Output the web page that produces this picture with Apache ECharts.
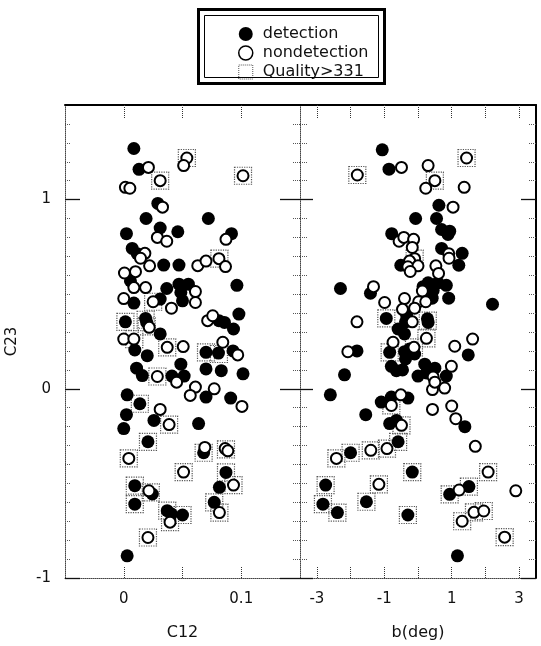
<!DOCTYPE html>
<html>
<head>
<meta charset="utf-8">
<script src="https://cdn.jsdelivr.net/npm/echarts@6/dist/echarts.min.js"></script>
<style>
html,body{margin:0;padding:0;background:#fff;}
#chart{width:541px;height:646px;}
</style>
</head>
<body>
<div id="chart"></div>
<script>
// ---- data: left panel (C12, C23) ----
var leftDetection = [[0.0086,1.27],[0.013,1.16],[0.029,0.98],[0.019,0.90],[0.072,0.90],[0.031,0.85],[0.0023,0.82],[0.046,0.83],[0.0917,0.82],[0.0072,0.742],[0.0115,0.714],[0.034,0.654],[0.047,0.654],[0.0057,0.57],[0.0366,0.53],[0.047,0.553],[0.055,0.553],[0.0486,0.509],[0.050,0.465],[0.0963,0.547],[0.0086,0.453],[0.031,0.474],[0.098,0.395],[0.081,0.36],[0.0857,0.351],[0.0934,0.316],[0.0014,0.354],[0.0186,0.372],[0.0195,0.351],[0.031,0.29],[0.0094,0.205],[0.020,0.175],[0.070,0.193],[0.0806,0.189],[0.093,0.20],[0.0486,0.13],[0.0109,0.109],[0.0158,0.07],[0.041,0.067],[0.0514,0.067],[0.070,0.105],[0.083,0.096],[0.1015,0.079],[0.070,-0.044],[0.091,-0.049],[0.0029,-0.032],[0.0137,-0.079],[0.0023,-0.137],[0.0257,-0.167],[0.0637,-0.184],[0.0,-0.21],[0.0206,-0.28],[0.068,-0.338],[0.087,-0.442],[0.0094,-0.512],[0.0243,-0.556],[0.0814,-0.521],[0.0094,-0.61],[0.077,-0.6],[0.037,-0.644],[0.0406,-0.662],[0.050,-0.667],[0.0029,-0.883]];
var leftNondetection = [[0.0537,1.22],[0.051,1.18],[0.021,1.17],[0.031,1.10],[0.1015,1.126],[0.0014,1.065],[0.0052,1.06],[0.033,0.96],[0.0286,0.80],[0.0366,0.78],[0.087,0.79],[0.018,0.716],[0.0143,0.69],[0.022,0.65],[0.063,0.651],[0.070,0.675],[0.081,0.688],[0.0866,0.646],[0.0006,0.612],[0.010,0.619],[0.0086,0.535],[0.0186,0.535],[0.061,0.514],[0.061,0.456],[0.0,0.477],[0.025,0.46],[0.0406,0.426],[0.0714,0.36],[0.0757,0.386],[0.0217,0.325],[0.0,0.263],[0.0086,0.263],[0.037,0.219],[0.0506,0.223],[0.0843,0.246],[0.097,0.179],[0.0286,0.065],[0.045,0.035],[0.061,0.009],[0.0566,-0.035],[0.077,0.0],[0.1006,-0.093],[0.031,-0.109],[0.0386,-0.189],[0.0043,-0.368],[0.069,-0.31],[0.0863,-0.316],[0.0886,-0.328],[0.0509,-0.44],[0.0214,-0.539],[0.0934,-0.509],[0.0814,-0.654],[0.0394,-0.705],[0.0206,-0.786]];
var leftQuality = [[0.0537,1.22],[0.031,1.10],[0.1015,1.126],[0.0814,0.688],[0.025,0.46],[0.0014,0.354],[0.0186,0.365],[0.0195,0.33],[0.009,0.263],[0.037,0.219],[0.070,0.193],[0.081,0.184],[0.0286,0.065],[0.0137,-0.079],[0.0386,-0.189],[0.0206,-0.28],[0.0043,-0.368],[0.068,-0.338],[0.087,-0.32],[0.051,-0.44],[0.087,-0.442],[0.0094,-0.512],[0.023,-0.547],[0.0934,-0.509],[0.0094,-0.61],[0.077,-0.6],[0.0814,-0.654],[0.037,-0.644],[0.050,-0.667],[0.0394,-0.705],[0.0206,-0.786]];

// ---- data: right panel (b(deg), C23) ----
var rightDetection = [[-1.06,1.263],[-0.86,1.161],[0.62,0.97],[-0.07,0.90],[0.55,0.90],[0.70,0.842],[0.94,0.833],[0.89,0.816],[-0.78,0.82],[0.70,0.742],[1.31,0.716],[-0.51,0.653],[1.21,0.653],[-2.30,0.53],[-1.41,0.505],[0.30,0.56],[0.59,0.56],[0.84,0.547],[0.45,0.52],[0.15,0.54],[0.42,0.479],[0.91,0.479],[2.21,0.447],[-0.94,0.372],[-0.34,0.39],[-0.37,0.354],[0.28,0.37],[0.30,0.351],[-0.59,0.316],[-0.40,0.29],[1.49,0.179],[-1.81,0.20],[-0.84,0.193],[-0.40,0.196],[-0.25,0.21],[-0.10,0.184],[-0.37,0.158],[-0.79,0.119],[-0.64,0.096],[-0.46,0.1],[0.20,0.13],[0.50,0.109],[-2.18,0.074],[0.0,0.067],[0.25,0.084],[0.84,0.067],[-2.60,-0.032],[-1.09,-0.07],[-0.79,-0.044],[-0.30,-0.049],[-1.55,-0.137],[1.39,-0.20],[-0.84,-0.184],[-0.64,-0.167],[-0.59,-0.28],[-0.17,-0.44],[-2.0,-0.338],[-2.74,-0.509],[0.94,-0.558],[1.51,-0.517],[-2.82,-0.61],[-1.53,-0.597],[-2.39,-0.654],[-0.30,-0.667],[1.17,-0.883]];
var rightNondetection = [[-0.49,1.17],[0.30,1.18],[1.44,1.22],[-1.80,1.13],[0.50,1.10],[0.23,1.06],[1.37,1.065],[1.04,0.96],[-0.56,0.78],[-0.42,0.80],[-0.13,0.79],[-0.17,0.747],[0.91,0.714],[0.92,0.69],[-0.10,0.688],[-0.25,0.675],[-0.30,0.645],[0.0,0.65],[-0.23,0.62],[0.53,0.65],[0.61,0.61],[-1.32,0.54],[0.13,0.517],[0.02,0.46],[0.23,0.46],[-0.40,0.477],[-0.99,0.456],[-0.46,0.42],[-0.10,0.426],[-1.81,0.354],[-0.17,0.354],[0.25,0.267],[1.62,0.263],[-0.74,0.246],[1.09,0.225],[-2.08,0.196],[-0.12,0.219],[0.99,0.119],[0.45,0.063],[0.43,-0.004],[0.79,0.004],[0.50,0.035],[-0.51,-0.032],[-0.79,-0.088],[0.43,-0.109],[1.0,-0.091],[1.12,-0.158],[-0.49,-0.193],[1.70,-0.304],[-2.42,-0.368],[-1.40,-0.325],[-0.92,-0.316],[2.08,-0.44],[-1.16,-0.505],[2.90,-0.539],[1.22,-0.535],[1.31,-0.70],[1.66,-0.653],[1.95,-0.646],[2.57,-0.784]];
var rightQuality = [[1.44,1.22],[-1.80,1.13],[0.50,1.10],[-0.10,0.688],[-0.94,0.372],[0.29,0.36],[0.25,0.267],[-0.84,0.193],[-0.12,0.219],[-0.79,-0.088],[-0.49,-0.193],[-0.59,-0.28],[-2.42,-0.368],[-2.0,-0.338],[-1.40,-0.325],[-0.92,-0.316],[-0.17,-0.44],[2.08,-0.44],[-2.74,-0.509],[-1.16,-0.505],[0.94,-0.558],[1.51,-0.517],[-2.82,-0.61],[-1.53,-0.597],[-2.39,-0.654],[-0.30,-0.667],[1.31,-0.70],[1.66,-0.653],[1.95,-0.646],[2.57,-0.784]];

// ---- ticks / labels ----
var c12Ticks = [0, 0.05, 0.1];
var c12Labels = [0, 0.1];
var bTicks = [-3, -2, -1, 0, 1, 2, 3];
var bLabels = [-3, -1, 1, 3];
var c23MajorTicks = [-1, 0, 1];
var c23Labels = [-1, 0, 1];
var c23MinorTicks = [-0.9,-0.8,-0.7,-0.6,-0.5,-0.4,-0.3,-0.2,-0.1,0.1,0.2,0.3,0.4,0.5,0.6,0.7,0.8,0.9,1.1,1.2,1.3,1.4];
var seriesNames = ['detection', 'nondetection', 'Quality>331'];

var FONT = 'DejaVu Sans';
var chart = echarts.init(document.getElementById('chart'), null, {renderer: 'canvas'});

function xAx(grid, pos, min, max, ticks, labels, lineStyle, tickLen, name) {
  return {
    type: 'value', gridIndex: grid, position: pos, min: min, max: max,
    splitLine: {show: false},
    axisLine: {show: true, onZero: false, lineStyle: lineStyle},
    axisTick: {show: true, inside: true, length: tickLen, customValues: ticks,
      lineStyle: {color: '#333', width: 1, type: 'dotted'}},
    axisLabel: labels ? {show: true, customValues: labels, margin: 14,
      fontFamily: FONT, fontSize: 15, color: '#111'} : {show: false},
    name: name || '', nameLocation: 'middle', nameGap: 47,
    nameTextStyle: {fontFamily: FONT, fontSize: 16, color: '#111'}
  };
}
function yAx(grid, pos, ticks, tickLen, inside, lineShow, lineStyle, tickStyle, labels, name) {
  return {
    type: 'value', gridIndex: grid, position: pos, min: -1, max: 1.5,
    splitLine: {show: false},
    axisLine: {show: lineShow, onZero: false, lineStyle: lineStyle || {}},
    axisTick: {show: true, inside: inside, length: tickLen, customValues: ticks, lineStyle: tickStyle},
    axisLabel: labels ? {show: true, customValues: labels, margin: 14,
      fontFamily: FONT, fontSize: 15, color: '#111'} : {show: false},
    name: name || '', nameLocation: 'middle', nameGap: 45, nameRotate: 90,
    nameTextStyle: {fontFamily: FONT, fontSize: 15, color: '#111'}
  };
}
var dotted = {color: '#444', width: 1, type: 'dotted'};
var solid = {color: '#000', width: 2, type: 'solid'};
var majorTick = {color: '#111', width: 1.3, type: 'solid'};
var minorTick = {color: '#555', width: 1, type: 'dotted'};

function scat(name, data, xi, yi) {
  var s = {type: 'scatter', name: name, data: data, xAxisIndex: xi, yAxisIndex: yi, animation: false};
  if (name === seriesNames[0]) {
    s.symbol = 'circle'; s.symbolSize = 13; s.itemStyle = {color: '#000', opacity: 1}; s.z = 3;
  } else if (name === seriesNames[1]) {
    s.symbol = 'circle'; s.symbolSize = 11;
    s.itemStyle = {color: '#fff', borderColor: '#000', borderWidth: 2, opacity: 1}; s.z = 4;
  } else {
    s.symbol = 'rect'; s.symbolSize = 17;
    s.itemStyle = {color: 'rgba(255,255,255,0)', borderColor: '#555', borderWidth: 1.2, borderType: 'dotted', opacity: 1}; s.z = 2;
  }
  return s;
}

var option = {
  backgroundColor: '#fff',
  animation: false,
  grid: [
    {left: 65, top: 105, width: 235, height: 475},
    {left: 300, top: 105, width: 236, height: 475}
  ],
  legend: {
    show: true, orient: 'vertical', left: 233, top: 21,
    itemWidth: 24, itemHeight: 14, itemGap: 3,
    textStyle: {fontFamily: FONT, fontSize: 16, color: '#111'},
    data: [
      {name: seriesNames[0], icon: 'circle', itemStyle: {color: '#000'}},
      {name: seriesNames[1], icon: 'path://M5,0A5,5,0,1,1,4.99,0Z',
        itemStyle: {color: '#fff', borderColor: '#000', borderWidth: 1.5}},
      {name: seriesNames[2], icon: 'path://M0,0H10V10H0Z',
        itemStyle: {color: '#fff', borderColor: '#555', borderWidth: 1, borderType: 'dotted'}}
    ],
    selectedMode: false
  },
  graphic: [
    {type: 'rect', shape: {x: 198.5, y: 9.5, width: 186, height: 74}, style: {fill: 'none', stroke: '#000', lineWidth: 3}, z: 10},
    {type: 'rect', shape: {x: 204.5, y: 15.5, width: 174, height: 62}, style: {fill: 'none', stroke: '#000', lineWidth: 1}, z: 10}
  ],
  xAxis: [
    xAx(0, 'bottom', -0.05, 0.15, c12Ticks, c12Labels, dotted, 12, 'C12'),
    xAx(0, 'top', -0.05, 0.15, c12Ticks, null, solid, 13, ''),
    xAx(1, 'bottom', -3.5, 3.5, bTicks, bLabels, dotted, 12, 'b(deg)'),
    xAx(1, 'top', -3.5, 3.5, bTicks, null, solid, 13, '')
  ],
  yAxis: [
    yAx(0, 'left', c23MajorTicks, 15, true, true, dotted, majorTick, c23Labels, 'C23'),
    yAx(0, 'left', c23MinorTicks, 5, true, false, null, minorTick, null, ''),
    yAx(1, 'left', c23MajorTicks, 13, true, true, dotted, majorTick, null, ''),
    yAx(1, 'left', c23MinorTicks, 7, true, false, null, minorTick, null, ''),
    yAx(1, 'left', c23MajorTicks, 20, false, false, null, majorTick, null, ''),
    yAx(1, 'left', c23MinorTicks, 7, false, false, null, minorTick, null, ''),
    yAx(1, 'right', c23MajorTicks, 15, true, true, solid, majorTick, null, ''),
    yAx(1, 'right', c23MinorTicks, 7, true, false, null, minorTick, null, '')
  ],
  series: [
    scat(seriesNames[2], leftQuality, 0, 0),
    scat(seriesNames[0], leftDetection, 0, 0),
    scat(seriesNames[1], leftNondetection, 0, 0),
    scat(seriesNames[2], rightQuality, 2, 2),
    scat(seriesNames[0], rightDetection, 2, 2),
    scat(seriesNames[1], rightNondetection, 2, 2)
  ]
};
chart.setOption(option);
</script>
</body>
</html>
